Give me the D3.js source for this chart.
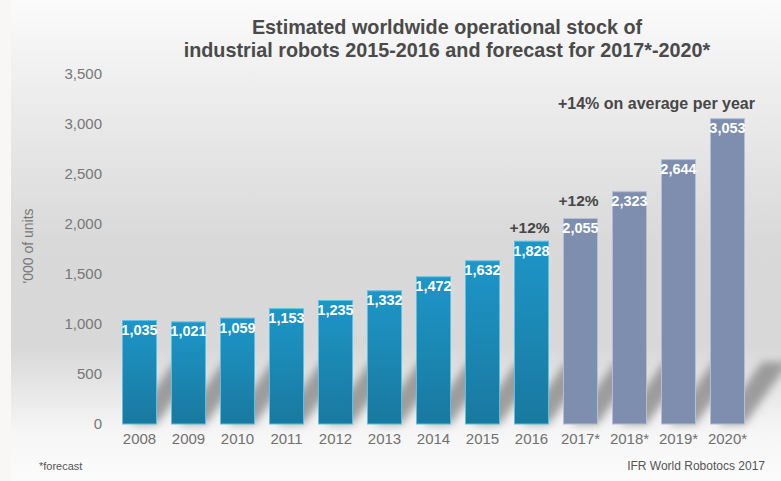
<!DOCTYPE html>
<html>
<head>
<meta charset="utf-8">
<script src="https://cdn.jsdelivr.net/npm/d3@7"></script>
<style>
  html, body { margin: 0; padding: 0; background: #f8f7f6; }
  svg { display: block; font-family: "Liberation Sans", Arial, sans-serif; }
</style>
</head>
<body>
<div id="corpo"></div>
<script>
// data
var years = ["2008","2009","2010","2011","2012","2013","2014","2015","2016","2017*","2018*","2019*","2020*"];
var stock = [1035, 1021, 1059, 1153, 1235, 1332, 1472, 1632, 1828, 2055, 2323, 2644, 3053];
var forecast = [false,false,false,false,false,false,false,false,false,true,true,true,true];
var yTicks = [0, 500, 1000, 1500, 2000, 2500, 3000, 3500];
var titleLines = ["Estimated worldwide operational stock of",
                  "industrial robots 2015-2016 and forecast for 2017*-2020*"];
var growthYears = ["2016", "2017*"];
var growthText = ["+12%", "+12%"];

var width = 781, height = 481;

var data = years.map(function(y, i){
    return { year: y, valor: stock[i], fc: forecast[i] };
});

var svg = d3.select("#corpo").append("svg")
    .attr("width", width)
    .attr("height", height);

var defs = svg.append("defs");

var bg = defs.append("linearGradient").attr("id", "bg")
    .attr("x1", 0).attr("y1", 0).attr("x2", 0).attr("y2", 1);
[[0, "#fbfbfb"], [0.15, "#f0f0f0"], [0.5, "#d9d9d9"], [0.72, "#d8d8d8"], [0.9, "#f6f6f6"], [1, "#fbfbfb"]]
    .forEach(function(s){ bg.append("stop").attr("offset", s[0]).attr("stop-color", s[1]); });

var gBlue = defs.append("linearGradient").attr("id", "blue")
    .attr("x1", 0).attr("y1", 0).attr("x2", 0).attr("y2", 1);
gBlue.append("stop").attr("offset", 0).attr("stop-color", "#1d96c8");
gBlue.append("stop").attr("offset", 1).attr("stop-color", "#19799f");

defs.append("filter").attr("id", "blur")
    .attr("x", "-50%").attr("y", "-50%").attr("width", "200%").attr("height", "200%")
    .append("feGaussianBlur").attr("stdDeviation", 4);

svg.append("rect")
    .attr("x", 11).attr("y", 0)
    .attr("width", width - 11).attr("height", height)
    .style("fill", "url(#bg)");

var x = d3.scaleBand()
    .domain(years)
    .range([115, 752])
    .paddingInner(0.286)
    .paddingOuter(0.143);

var y = d3.scaleLinear()
    .domain([0, 3500])
    .range([424, 74]);

// y axis
var yAxis = d3.axisLeft(y)
    .tickValues(yTicks)
    .tickSize(0)
    .tickPadding(0)
    .tickFormat(d3.format(","));

var ya = svg.append("g")
    .attr("transform", "translate(102,0)")
    .call(yAxis);
ya.select(".domain").remove();
ya.selectAll("text")
    .style("font-size", "15px")
    .style("fill", "#777")
    .style("font-family", "Liberation Sans, Arial, sans-serif");

svg.append("text")
    .attr("transform", "translate(33,246) rotate(-90)")
    .attr("text-anchor", "middle")
    .style("font-size", "14px")
    .style("fill", "#777")
    .text("'000 of units");

// x axis
var xAxis = d3.axisBottom(x).tickSize(0).tickPadding(0);
var xa = svg.append("g")
    .attr("transform", "translate(0,429)")
    .call(xAxis);
xa.select(".domain").remove();
xa.selectAll("text")
    .attr("dy", "1em")
    .style("font-size", "15px")
    .style("fill", "#707070")
    .style("font-family", "Liberation Sans, Arial, sans-serif");

// shadows
svg.append("g").attr("filter", "url(#blur)")
    .selectAll("polygon")
    .data(data)
    .enter().append("polygon")
    .attr("points", function(d){
        var x0 = x(d.year), x1 = x0 + x.bandwidth(), b = y(0);
        return [[x0 + 8, b], [x1, b], [x1 + 44, b - 62], [x0 + 52, b - 62]].join(" ");
    })
    .style("fill", "#7c7c7c")
    .style("opacity", 0.7);

// bars
var g = svg.selectAll(".bar")
    .data(data)
    .enter().append("g")
    .attr("class", "bar");

g.append("rect")
    .attr("x", function(d){ return x(d.year) + 0.5; })
    .attr("y", function(d){ return y(d.valor); })
    .attr("width", x.bandwidth() - 1)
    .attr("height", function(d){ return y(0) - y(d.valor); })
    .style("fill", function(d){ return d.fc ? "#7d8eae" : "url(#blue)"; })
    .style("stroke", function(d){ return d.fc ? "#b3bfd4" : "#5cc0e6"; })
    .style("stroke-width", 1);

g.append("text")
    .attr("x", function(d){ return x(d.year) + x.bandwidth() / 2; })
    .attr("y", function(d){ return y(d.valor) + 14.5; })
    .attr("text-anchor", "middle")
    .style("font-size", "14.5px")
    .style("font-weight", "bold")
    .style("fill", "#fff")
    .text(function(d){ return d3.format(",")(d.valor); });

// annotations
growthYears.forEach(function(yr, i){
    var d = data[years.indexOf(yr)];
    svg.append("text")
        .attr("x", x(yr) + x.bandwidth() / 2 - 2)
        .attr("y", y(d.valor) - (i === 0 ? 8 : 13))
        .attr("text-anchor", "middle")
        .style("font-size", "15.5px")
        .style("font-weight", "bold")
        .style("fill", "#474747")
        .text(growthText[i]);
});

svg.append("text")
    .attr("x", x("2020*") + x.bandwidth() + 10)
    .attr("y", 109)
    .attr("text-anchor", "end")
    .style("font-size", "16px")
    .style("font-weight", "bold")
    .style("fill", "#474747")
    .text("+14% on average per year");

// title
svg.append("g").selectAll("text")
    .data(titleLines)
    .enter().append("text")
    .attr("x", 447)
    .attr("y", function(d, i){ return 34 + i * 22.5; })
    .attr("text-anchor", "middle")
    .style("font-size", "19.8px")
    .style("font-weight", "bold")
    .style("fill", "#4a4a4a")
    .text(function(d){ return d; });

// footnotes
svg.append("text")
    .attr("x", 39).attr("y", 470)
    .style("font-size", "11px")
    .style("fill", "#555")
    .text("*forecast");

svg.append("text")
    .attr("x", 765).attr("y", 470)
    .attr("text-anchor", "end")
    .style("font-size", "12px")
    .style("fill", "#555")
    .text("IFR World Robotocs 2017");
</script>
</body>
</html>
